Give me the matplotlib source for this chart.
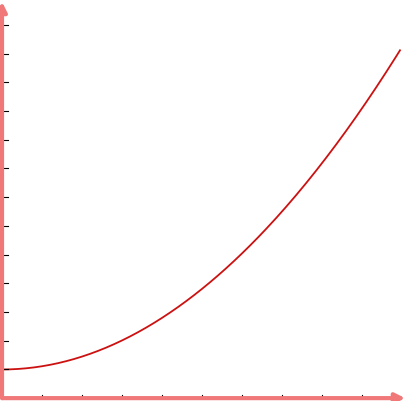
import matplotlib
matplotlib.use("Agg")
import matplotlib.pyplot as plt

xs = [0, 1, 2, 3, 4, 5, 6, 7, 8, 9, 9.95]
ys = [1.0, 1.11, 1.45, 2.0, 2.8, 3.8, 5.03, 6.5, 8.2, 10.1, 12.1]

axis_col = "#f07878"
fig = plt.figure(figsize=(4.08, 4.02), dpi=100)
ax = fig.add_axes([0, 0, 1, 1])
ax.set_xlim(-0.05, 10.15)
ax.set_ylim(-0.1, 13.9)
ax.axis("off")

import numpy as np
xx = np.linspace(0, 9.95, 200)
yy = np.interp(xx, xs, ys)
from matplotlib.path import Path
# smooth via quadratic fit of read points
c = np.polyfit(xs, ys, 2)
ax.plot(xx, np.polyval(c, xx), color="#cc1111", lw=1.3)

ax.annotate("", xy=(10.15, 0), xytext=(-0.05, 0),
            arrowprops=dict(arrowstyle="-|>", color=axis_col, lw=3, mutation_scale=14))
ax.annotate("", xy=(0, 13.9), xytext=(0, -0.1),
            arrowprops=dict(arrowstyle="-|>", color=axis_col, lw=3, mutation_scale=14))
for i in range(1, 10):
    ax.plot([i, i], [0, 0.12], color="black", lw=0.8)
for j in range(1, 14):
    ax.plot([0, 0.15], [j, j], color="black", lw=0.8)
fig.savefig("out.png", dpi=100)
